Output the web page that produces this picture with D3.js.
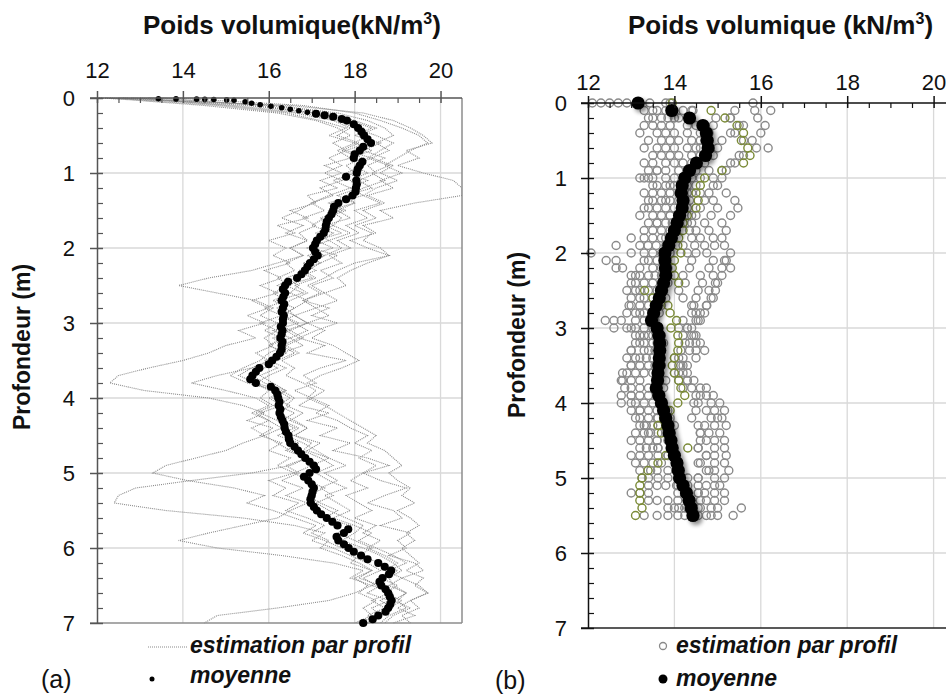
<!DOCTYPE html>
<html><head><meta charset="utf-8">
<script src="https://cdn.jsdelivr.net/npm/d3@7"></script>
<style>
body{margin:0;background:#fff;}
svg text{font-family:"Liberation Sans",Arial,sans-serif;}
</style></head><body>
<svg id="c" width="946" height="697"></svg>
<script>
// ---------------- DATA ----------------
const xTicks = [12, 14, 16, 18, 20];
const yTicks = [0, 1, 2, 3, 4, 5, 6, 7];
const gridX = [14, 16, 18, 20];
const gridY = [1, 2, 3, 4, 5, 6];

// Panel (a): depth grid of profiles (m)
const depthA = [0,0.1,0.2,0.3,0.4,0.5,0.6,0.7,0.8,0.9,1,1.1,1.2,1.3,1.4,1.5,1.6,1.7,1.8,1.9,2,2.1,2.2,2.3,2.4,2.5,2.6,2.7,2.8,2.9,3,3.1,3.2,3.3,3.4,3.5,3.6,3.7,3.8,3.9,4,4.1,4.2,4.3,4.4,4.5,4.6,4.7,4.8,4.9,5,5.1,5.2,5.3,5.4,5.5,5.6,5.7,5.8,5.9,6,6.1,6.2,6.3,6.4,6.5,6.6,6.7,6.8,6.9,7];
// Panel (a): estimation par profil (kN/m3)
const profA1 = [12.0,16.5,18.2,18.9,19.3,19.6,19.8,19.2,19.5,19.0,19.6,20.3,20.5,20.5,19.4,18.6,18.9,18.2,18.5,17.9,18.3,18.8,18.0,17.6,17.3,16.9,17.2,16.8,17.4,17.0,17.6,17.1,16.7,17.3,16.9,17.8,17.2,16.8,17.1,16.6,17.0,16.7,17.4,16.9,17.6,17.2,17.9,17.5,18.3,18.8,18.2,18.6,19.2,18.7,18.3,18.9,19.1,18.6,19.3,19.0,19.2,18.8,19.4,19.6,19.1,19.5,19.7,19.3,19.0,19.4,18.9];
const profA2 = [12.3,14.8,16.4,17.2,17.8,17.4,18.0,17.6,17.9,17.3,17.7,17.2,17.6,16.9,17.1,16.5,16.9,16.2,16.6,16.0,16.4,16.1,16.5,15.9,16.3,15.8,16.2,15.6,16.0,15.5,15.9,15.3,15.7,15.0,14.6,14.0,13.2,12.5,12.3,13.1,14.6,15.4,15.9,15.5,16.1,15.8,16.3,16.0,16.5,16.2,16.6,16.0,16.4,16.1,16.7,16.4,16.9,17.3,17.0,17.4,17.2,17.7,18.1,18.4,18.0,18.3,18.1,18.5,18.2,18.4,18.0];
const profA3 = [12.8,15.5,17.1,17.9,18.4,18.0,18.6,18.2,18.7,18.3,18.5,18.1,18.4,17.8,18.0,17.6,17.9,17.3,17.7,17.1,17.5,16.9,17.2,16.7,17.0,16.4,16.8,16.2,16.6,16.3,16.7,16.1,16.5,16.0,16.4,15.9,16.2,15.8,16.1,16.4,16.0,16.3,15.8,16.2,16.6,16.2,16.7,16.4,16.9,16.5,15.6,14.2,12.9,12.5,12.4,13.6,15.4,16.6,17.3,17.0,17.5,17.9,18.3,18.6,18.2,18.5,18.8,18.4,18.7,18.3,18.5];
const profA4 = [13.0,15.0,16.6,17.5,17.9,17.6,18.1,17.7,18.2,17.8,18.0,17.5,17.9,17.4,17.0,16.7,16.3,16.8,16.4,16.9,16.5,16.8,16.2,15.6,14.6,13.9,14.8,15.7,16.1,15.8,16.2,15.9,16.3,16.0,16.4,16.1,15.6,15.3,15.7,16.0,15.8,16.1,15.7,16.0,15.6,15.9,15.4,15.0,14.3,13.6,13.3,14.1,15.2,15.9,15.5,16.1,16.6,17.1,16.8,17.3,17.7,18.1,17.9,18.4,18.1,18.6,18.3,18.8,18.4,18.6,18.3];
const profA5 = [12.5,16.2,17.6,18.3,18.7,18.9,18.5,18.8,18.4,18.9,18.6,19.0,18.5,18.2,18.6,18.0,18.3,17.8,18.1,17.6,17.9,17.4,17.7,17.2,17.5,17.0,17.3,16.8,17.1,16.6,16.9,16.5,16.8,16.4,16.7,16.3,16.6,16.4,16.8,17.1,16.9,17.3,17.6,17.9,18.2,18.5,18.3,18.7,18.9,19.1,18.8,19.0,19.3,19.1,19.4,19.0,19.3,19.5,19.2,19.4,19.1,19.3,19.5,19.2,19.6,19.4,19.7,19.3,19.5,19.1,19.3];
const profA6 = [13.5,15.8,17.0,17.7,18.2,18.3,18.0,18.4,17.9,18.2,17.8,18.3,17.9,18.2,17.5,17.7,17.2,17.5,17.1,17.4,16.9,17.3,16.8,17.1,16.6,16.2,16.5,16.1,16.4,16.6,16.2,16.5,16.1,16.4,16.0,15.8,15.4,15.1,15.5,16.2,16.5,16.2,16.6,16.3,16.7,16.4,16.8,17.1,17.4,17.8,17.3,17.6,17.2,17.5,17.1,17.4,17.8,18.2,18.0,17.7,18.2,18.6,18.9,19.1,18.8,18.9,19.2,19.0,19.2,18.8,18.6];
const profA7 = [12.2,14.5,16.2,17.1,17.6,17.9,17.5,17.8,17.4,17.7,17.3,17.7,17.2,17.5,17.0,17.3,16.8,17.1,16.7,16.9,16.5,16.8,16.4,16.6,16.2,16.5,16.1,16.4,15.9,16.3,15.8,16.2,15.9,16.1,15.7,16.0,15.6,14.8,14.2,15.0,15.7,16.0,15.6,16.0,16.3,15.9,16.2,16.5,16.9,16.4,16.7,16.3,16.8,16.4,16.9,16.5,16.2,15.4,14.6,13.9,14.8,16.3,17.5,18.2,17.9,18.4,18.0,17.4,16.2,14.8,14.5];
const profA8 = [13.8,16.8,18.0,18.6,19.1,19.5,19.7,19.3,19.0,18.7,19.1,18.6,18.9,18.3,18.7,18.2,18.5,18.0,18.4,18.2,18.6,18.8,18.3,17.9,17.6,17.8,17.3,17.6,17.1,17.4,16.9,17.3,17.0,17.5,17.8,18.1,17.7,17.2,16.9,17.3,17.0,17.4,17.1,17.6,17.9,18.3,18.0,18.4,18.1,18.5,18.2,17.9,18.3,17.8,18.1,18.4,18.0,18.5,18.2,18.6,18.3,18.7,19.0,18.7,19.1,18.8,19.2,18.9,19.3,18.9,18.7];
const profA9 = [12.6,15.2,16.8,17.6,18.0,18.5,18.9,18.6,18.3,18.8,18.4,18.7,18.2,17.9,17.4,17.8,17.3,17.0,17.5,17.2,17.0,17.6,17.2,16.9,16.4,16.7,16.5,16.9,16.6,16.3,16.6,16.9,16.5,16.8,16.3,16.0,16.4,16.0,15.7,16.3,16.6,16.4,16.8,16.5,16.9,16.6,17.0,16.8,17.2,17.5,17.1,17.4,17.8,17.3,17.6,17.9,17.5,18.0,18.4,18.1,18.5,18.9,19.2,18.8,18.6,19.0,18.7,19.1,18.8,18.5,18.3];
const profA10 = [13.2,16.0,17.4,18.0,18.5,18.1,18.3,17.8,18.4,18.0,18.3,17.9,18.1,17.6,18.0,17.4,17.7,17.5,17.9,17.4,17.7,17.3,17.0,16.8,17.1,16.6,16.9,16.5,16.2,16.6,16.9,16.4,16.7,16.3,16.6,16.2,15.9,15.6,15.9,16.4,16.1,16.5,16.2,16.6,16.9,16.6,17.2,16.9,17.4,17.0,16.6,16.9,17.3,16.9,17.2,17.6,17.3,17.9,17.6,18.0,18.4,18.1,18.6,19.0,18.7,18.4,18.9,18.6,18.9,18.5,18.1];

// Panel (a): moyenne
const meanADepth = [0.01,0.012,0.015,0.018,0.02,0.025,0.03,0.05,0.07,0.09,0.11,0.13,0.15,0.17,0.19,0.21,0.23,0.25,0.28,0.3,
0.35,0.4,0.45,0.5,0.55,0.6,0.65,0.7,0.75,0.8,0.85,0.9,0.95,1,
1.05,1.1,1.15,1.2,1.25,1.3,1.35,1.4,1.45,1.5,1.55,1.6,1.65,1.7,1.75,1.8,1.85,1.9,1.95,2,
2.05,2.1,2.15,2.2,2.25,2.3,2.35,2.4,2.45,2.5,2.55,2.6,2.65,2.7,2.75,2.8,2.85,2.9,2.95,3,
3.05,3.1,3.15,3.2,3.25,3.3,3.35,3.4,3.45,3.5,3.55,3.6,3.65,3.7,3.75,3.8,3.85,3.9,3.95,4,
4.05,4.1,4.15,4.2,4.25,4.3,4.35,4.4,4.45,4.5,4.55,4.6,4.65,4.7,4.75,4.8,4.85,4.9,4.95,5,
5.05,5.1,5.15,5.2,5.25,5.3,5.35,5.4,5.45,5.5,5.55,5.6,5.65,5.7,5.75,5.8,5.85,5.9,5.95,6,
6.05,6.1,6.15,6.2,6.25,6.3,6.35,6.4,6.45,6.5,6.55,6.6,6.65,6.7,6.75,6.8,6.85,6.9,6.95,7];
const meanAValue = [13.43,13.84,14.32,14.51,14.72,15.02,15.19,15.45,15.6,15.8,16.05,16.3,16.5,16.7,16.9,17.1,17.3,17.5,17.7,17.82,
17.98,18.08,18.16,18.22,18.3,18.38,18.2,18.12,18.0,17.98,18.18,18.12,18.07,18.05,
17.8,18.04,18.05,18.03,18.02,17.95,17.8,17.62,17.52,17.5,17.46,17.4,17.35,17.33,17.32,17.28,17.2,17.12,17.08,17.03,
17.08,17.14,17.05,16.96,16.9,16.84,16.76,16.66,16.45,16.38,16.33,16.38,16.34,16.3,16.36,16.33,16.3,16.35,16.33,16.33,
16.28,16.32,16.3,16.27,16.32,16.3,16.3,16.26,16.18,16.08,16.0,15.78,15.7,15.62,15.57,15.7,16.05,16.15,16.2,16.22,
16.25,16.23,16.27,16.25,16.28,16.32,16.36,16.37,16.4,16.46,16.47,16.5,16.6,16.68,16.76,16.85,16.95,17.05,17.1,16.95,
16.82,16.92,17.0,17.05,17.02,17.0,16.97,16.98,17.05,17.12,17.22,17.35,17.48,17.6,17.85,17.75,17.58,17.62,17.75,17.86,
17.98,18.15,18.3,18.55,18.7,18.85,18.8,18.65,18.58,18.62,18.72,18.78,18.82,18.86,18.83,18.78,18.72,18.55,18.42,18.2];

// Panel (b): depth grid (m)
const depthB = [0,0.1,0.2,0.3,0.4,0.5,0.6,0.7,0.8,0.9,1,1.1,1.2,1.3,1.4,1.5,1.6,1.7,1.8,1.9,2,2.1,2.2,2.3,2.4,2.5,2.6,2.7,2.8,2.9,3,3.1,3.2,3.3,3.4,3.5,3.6,3.7,3.8,3.9,4,4.1,4.2,4.3,4.4,4.5,4.6,4.7,4.8,4.9,5,5.1,5.2,5.3,5.4,5.5];
// Panel (b): estimation par profil
const profB1 = [12.1,13.3,13.4,13.5,13.6,13.7,13.6,13.7,13.5,13.4,13.2,13.5,13.3,13.4,13.3,13.2,13.4,13.3,13.0,12.65,12.07,12.42,12.65,13.0,13.1,13.1,13.2,13.0,12.9,12.4,12.6,13.1,13.2,13.0,13.1,13.0,12.9,12.8,13.0,12.77,12.77,13.0,13.2,13.2,13.1,13.0,13.2,13.0,13.1,13.2,13.25,13.4,13.0,13.4,13.85,13.3];
const profB2 = [12.3,13.6,13.5,13.7,13.8,13.9,13.8,13.9,13.8,13.6,13.3,13.6,13.7,13.5,13.6,13.5,13.6,13.5,13.3,13.2,13.0,12.65,12.8,13.2,13.3,13.2,13.3,13.2,13.1,12.6,12.9,13.3,13.3,13.3,13.2,13.2,13.1,13.0,13.2,13.0,13.1,13.2,13.4,13.35,13.3,13.2,13.35,13.2,13.3,13.45,13.4,13.6,13.2,13.6,14.0,13.6];
const profB3 = [12.5,13.8,13.7,13.9,14.0,14.1,14.0,14.1,14.0,13.8,13.5,13.8,13.9,13.7,13.8,13.7,13.8,13.7,13.5,13.39,13.3,13.4,13.5,13.4,13.5,13.4,13.5,13.4,13.3,12.77,13.1,13.4,13.5,13.4,13.35,13.4,13.3,13.2,13.4,13.2,13.3,13.4,13.6,13.5,13.45,13.4,13.5,13.4,13.5,13.6,13.62,13.8,13.4,13.85,14.1,13.85];
const profB4 = [12.7,14.2,14.0,14.3,14.3,14.4,14.3,14.4,14.2,14.1,13.8,14.0,14.1,13.9,14.0,13.9,13.95,13.9,13.7,13.58,13.5,13.6,13.7,13.55,13.7,13.6,13.65,13.55,13.5,13.1,13.3,13.5,13.6,13.55,13.5,13.55,13.5,13.62,13.6,13.4,13.5,13.6,13.62,13.62,13.62,13.6,13.62,13.62,13.7,13.85,13.85,14.05,14.08,14.08,14.31,14.08];
const profB5 = [12.9,14.4,14.1,14.5,14.6,14.7,14.6,14.7,14.5,14.3,14.0,14.2,14.3,14.1,14.2,14.1,14.1,14.0,13.9,13.8,13.7,13.8,13.85,13.7,13.85,13.75,13.8,13.7,13.65,13.55,13.5,13.7,13.75,13.7,13.65,13.7,13.6,13.8,13.75,13.6,13.7,13.85,13.9,14.0,13.8,13.85,13.9,13.85,14.08,14.08,14.08,14.08,14.24,14.31,14.24,14.24];
const profB6 = [13.43,15.4,15.3,15.5,15.4,15.6,15.9,15.5,15.3,15.1,14.9,15.0,15.2,15.4,15.47,15.3,15.1,15.2,15.1,15.16,15.3,15.2,15.1,14.9,14.95,14.8,14.85,14.75,14.6,14.5,14.3,14.4,14.5,14.35,14.1,14.2,14.1,14.3,14.74,14.74,14.85,14.93,15.0,14.93,14.8,14.93,14.93,14.93,14.93,14.93,14.93,14.93,14.93,14.93,15.0,15.0];
const profB7 = [13.8,16.23,15.93,16.1,16.0,15.8,16.17,15.6,15.4,15.2,15.1,14.9,14.8,14.9,15.0,14.85,14.7,14.8,14.9,14.93,14.75,14.9,14.8,14.6,14.65,14.55,14.5,14.45,14.4,14.2,14.1,14.2,14.25,14.15,14.0,14.1,14.0,14.1,14.2,14.5,14.55,14.74,14.85,14.7,14.6,14.74,14.55,14.74,14.6,14.74,14.55,14.74,14.7,14.74,14.6,14.74];
const profB8 = [13.9,15.86,15.29,15.6,15.3,15.1,15.0,14.9,14.7,14.8,14.6,14.5,14.6,14.7,14.6,14.5,14.4,14.5,14.6,14.7,14.5,15.16,15.3,15.1,15.0,14.95,14.9,14.74,14.7,14.55,14.4,14.45,14.35,14.5,14.2,14.15,14.3,14.45,14.6,14.9,15.05,15.16,15.1,15.2,15.05,15.16,15.16,15.2,15.16,15.26,15.16,15.05,15.16,15.16,15.55,15.36];
const profB9 = [15.82,14.43,14.96,14.9,14.8,14.6,14.5,14.6,14.4,14.5,14.4,14.3,14.4,14.35,14.3,14.4,14.3,14.35,14.4,14.47,14.3,14.4,14.35,14.2,14.25,14.1,14.2,14.4,14.5,14.6,14.3,14.5,14.6,14.7,14.5,14.3,14.2,14.3,14.4,14.6,14.45,14.5,14.4,14.55,14.6,14.6,14.55,14.74,14.55,14.8,14.55,14.55,14.55,14.6,14.85,14.85];
const profB10 = [13.2,13.5,13.85,13.3,13.2,13.4,13.3,13.5,13.3,13.6,13.4,13.9,13.5,13.8,13.4,13.9,13.6,14.0,13.8,14.2,13.9,13.3,13.2,13.1,13.0,12.9,13.0,12.95,13.2,13.3,13.0,13.2,13.1,13.0,12.9,13.0,12.8,12.77,12.85,13.0,13.0,13.2,13.1,13.3,13.4,13.6,13.62,13.85,14.08,14.08,14.31,14.31,14.55,14.31,14.55,14.55];
const profBOlive = [13.95,14.85,15.17,15.45,15.6,15.55,15.7,15.75,15.6,15.1,14.7,14.6,14.5,14.55,14.5,14.3,14.2,14.2,14.1,14.08,14.15,14.0,13.95,14.0,14.1,13.31,13.5,13.85,13.9,14.05,13.92,14.08,14.1,14.08,14.0,13.95,14.0,14.1,14.15,14.24,14.08,13.9,13.75,13.62,13.7,13.9,14.31,13.8,13.62,13.39,13.25,13.2,13.2,13.2,13.25,13.1];
// Panel (b): moyenne
const meanB = [13.16,13.94,14.35,14.66,14.74,14.76,14.78,14.72,14.51,14.35,14.24,14.18,14.16,14.2,14.18,14.12,14.06,14.0,13.93,13.87,13.78,13.78,13.79,13.8,13.75,13.7,13.65,13.58,13.52,13.47,13.6,13.64,13.66,13.66,13.65,13.64,13.62,13.61,13.58,13.64,13.7,13.75,13.8,13.85,13.88,13.92,13.95,14.0,14.06,14.09,14.12,14.2,14.28,14.34,14.39,14.43];

const titleA = "Poids volumique(kN/m";
const titleB = "Poids volumique (kN/m";
const yTitle = "Profondeur (m)";
const legProfil = "estimation par profil";
const legMoy = "moyenne";

// ---------------- DRAW ----------------
const svg = d3.select("#c");
const defs = svg.append("defs");
const FONT = "Liberation Sans, Arial, sans-serif";

const xA = d3.scaleLinear().domain([12, 20.5]).range([97, 462]);
const yA = d3.scaleLinear().domain([0, 7]).range([98, 623]);
const xB = d3.scaleLinear().domain([12, 20.5]).range([588, 955.2]);
const yB = d3.scaleLinear().domain([0, 7]).range([103, 628]);

defs.append("clipPath").attr("id", "clipA").append("rect")
  .attr("x", xA(12)).attr("y", yA(0) - 2).attr("width", xA(20.5) - xA(12)).attr("height", yA(7) - yA(0) + 4);

const flt = defs.append("filter").attr("id", "shadow")
  .attr("x", "-20%").attr("y", "-20%").attr("width", "140%").attr("height", "140%");
flt.append("feGaussianBlur").attr("in", "SourceAlpha").attr("stdDeviation", 2.2).attr("result", "b");
flt.append("feOffset").attr("in", "b").attr("dx", 2.5).attr("dy", 2.5).attr("result", "o");
flt.append("feComponentTransfer").attr("in", "o").attr("result", "s")
  .append("feFuncA").attr("type", "linear").attr("slope", 0.45);
const mg = flt.append("feMerge");
mg.append("feMergeNode").attr("in", "s");
mg.append("feMergeNode").attr("in", "SourceGraphic");

const minorX = d3.range(12.5, 20.5, 0.5).filter(v => v % 2 !== 0);
const minorY = d3.range(0.2, 7, 0.2).filter(v => Math.abs(v - Math.round(v)) > 0.01);

function panel(x, y, o) {
  const g = svg.append("g");
  g.append("g").selectAll("line").data(gridX).join("line")
    .attr("x1", d => x(d)).attr("x2", d => x(d)).attr("y1", y(0)).attr("y2", y(7))
    .attr("stroke", "#d9d9d9").attr("stroke-width", 1.3);
  g.append("g").selectAll("line").data(gridY).join("line")
    .attr("x1", x(12)).attr("x2", x(20.5)).attr("y1", d => y(d)).attr("y2", d => y(d))
    .attr("stroke", "#d9d9d9").attr("stroke-width", 1.3);
  g.append("line").attr("x1", x(12) - 7).attr("x2", x(20.5)).attr("y1", y(7)).attr("y2", y(7))
    .attr("stroke", o.frame).attr("stroke-width", 1.5);
  if (o.rightBorder) {
    g.append("line").attr("x1", x(20.5)).attr("x2", x(20.5)).attr("y1", y(0)).attr("y2", y(7))
      .attr("stroke", o.frame).attr("stroke-width", 1.5);
  }
  return g;
}

function axes(g, x, y, o) {
  const top = g.append("g").attr("transform", `translate(0,${y(0)})`)
    .call(d3.axisTop(x).tickValues(xTicks).tickSize(7).tickPadding(o.xPad).tickSizeOuter(0).tickFormat(d3.format("d")));
  top.attr("font-family", FONT).attr("font-size", 22);
  top.select(".domain").attr("stroke", o.axis).attr("stroke-width", 1.5)
    .attr("d", `M${x(12) - 7},0H${x(20.5)}`);
  top.selectAll(".tick line").attr("y1", 5).attr("stroke", o.axis).attr("stroke-width", 1.5);
  top.selectAll(".tick text").attr("fill", "#111");
  const topm = g.append("g").attr("transform", `translate(0,${y(0)})`)
    .call(d3.axisTop(x).tickValues(minorX).tickSize(-5).tickFormat(""));
  topm.select(".domain").remove();
  topm.selectAll(".tick line").attr("stroke", o.axis).attr("stroke-width", 1.2);

  const left = g.append("g").attr("transform", `translate(${x(12)},0)`)
    .call(d3.axisLeft(y).tickValues(yTicks).tickSize(7).tickPadding(o.yPad).tickSizeOuter(0).tickFormat(d3.format("d")));
  left.attr("font-family", FONT).attr("font-size", 22);
  left.select(".domain").attr("stroke", o.axis).attr("stroke-width", 1.5);
  left.selectAll(".tick line").attr("x1", 6).attr("stroke", o.axis).attr("stroke-width", 1.5);
  left.selectAll(".tick text").attr("fill", "#111");
  const leftm = g.append("g").attr("transform", `translate(${x(12)},0)`)
    .call(d3.axisLeft(y).tickValues(minorY).tickSize(-6).tickFormat(""));
  leftm.select(".domain").remove();
  leftm.selectAll(".tick line").attr("stroke", o.axis).attr("stroke-width", 1.2);
}

function title(txt, xpos, ypos) {
  const t = svg.append("text").attr("x", xpos).attr("y", ypos)
    .attr("font-size", 26).attr("font-weight", "bold").attr("fill", "#111").attr("font-family", FONT);
  t.append("tspan").text(txt);
  t.append("tspan").attr("dy", -10).attr("font-size", 16).text("3");
  t.append("tspan").attr("dy", 10).text(")");
}

function yTitleAt(xpos, ypos) {
  svg.append("text").attr("transform", `translate(${xpos},${ypos}) rotate(-90)`)
    .attr("text-anchor", "middle").attr("font-size", 23).attr("font-weight", "bold")
    .attr("fill", "#111").attr("font-family", FONT).text(yTitle);
}

// ---- Panel (a)
const gA = panel(xA, yA, { frame: "#8c8c8c", rightBorder: true });
const profilesA = [profA1, profA2, profA3, profA4, profA5, profA6, profA7, profA8, profA9, profA10];
const lineA = d3.line().x(d => xA(d[1])).y(d => yA(d[0]));
gA.append("g").attr("clip-path", "url(#clipA)")
  .selectAll("path").data(profilesA).join("path")
  .attr("d", p => lineA(depthA.map((d, i) => [d, p[i]])))
  .attr("fill", "none").attr("stroke", "#8a8a8a").attr("stroke-width", 1.1)
  .attr("stroke-dasharray", "1,1");
gA.append("g").selectAll("circle").data(meanADepth).join("circle")
  .attr("cx", (d, i) => xA(meanAValue[i])).attr("cy", d => yA(d))
  .attr("r", d => d < 0.2 ? 2.8 : 4.1).attr("fill", "#000");
axes(gA, xA, yA, { axis: "#555", xPad: 13, yPad: 15 });
title(titleA, 143, 34);
yTitleAt(30, 347);

// ---- Panel (b)
const gB = panel(xB, yB, { frame: "#222", rightBorder: false });
const profilesB = [profB1, profB2, profB3, profB4, profB5, profB6, profB7, profB8, profB9, profB10];
const ptsB = [];
profilesB.forEach(p => depthB.forEach((d, i) => ptsB.push({ d, v: p[i], c: "#8a8a8a" })));
depthB.forEach((d, i) => ptsB.push({ d, v: profBOlive[i], c: "#7a8a36" }));
gB.append("g").selectAll("circle").data(ptsB).join("circle")
  .attr("cx", p => xB(p.v)).attr("cy", p => yB(p.d)).attr("r", 4)
  .attr("fill", "none").attr("stroke", p => p.c).attr("stroke-width", 1.4);
gB.append("g").attr("filter", "url(#shadow)")
  .selectAll("circle").data(depthB).join("circle")
  .attr("cx", (d, i) => xB(meanB[i])).attr("cy", d => yB(d)).attr("r", 6.6).attr("fill", "#000");
axes(gB, xB, yB, { axis: "#111", xPad: 6, yPad: 14 });
title(titleB, 628, 34);
yTitleAt(525, 335);

// ---- Legends
const leg = svg.append("g").attr("font-family", FONT).attr("font-size", 23)
  .attr("font-weight", "bold").attr("font-style", "italic").attr("fill", "#111");
svg.append("line").attr("x1", 148).attr("x2", 187).attr("y1", 647).attr("y2", 647)
  .attr("stroke", "#8a8a8a").attr("stroke-width", 1.1).attr("stroke-dasharray", "1,1");
leg.append("text").attr("x", 190).attr("y", 653).text(legProfil);
svg.append("circle").attr("cx", 152).attr("cy", 679).attr("r", 2.5).attr("fill", "#000");
leg.append("text").attr("x", 190).attr("y", 683).text(legMoy);

svg.append("circle").attr("cx", 663).attr("cy", 646).attr("r", 3.5)
  .attr("fill", "none").attr("stroke", "#8a8a8a").attr("stroke-width", 1.3);
leg.append("text").attr("x", 676).attr("y", 653).text(legProfil);
svg.append("circle").attr("cx", 663).attr("cy", 679).attr("r", 4.5).attr("fill", "#000");
leg.append("text").attr("x", 676).attr("y", 686).text(legMoy);

svg.append("text").attr("x", 41).attr("y", 688).attr("font-size", 25).attr("fill", "#111")
  .attr("font-family", FONT).text("(a)");
svg.append("text").attr("x", 495).attr("y", 689).attr("font-size", 25).attr("fill", "#111")
  .attr("font-family", FONT).text("(b)");
</script>
</body></html>
